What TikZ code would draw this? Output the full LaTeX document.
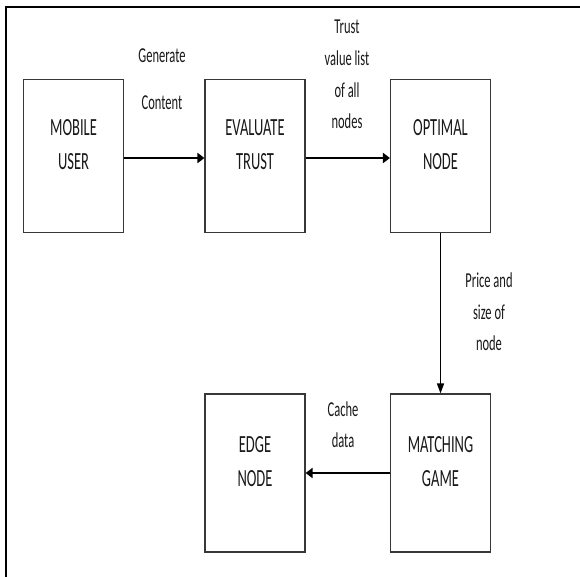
\documentclass[tikz,border=0pt]{standalone}
\usepackage{fontspec}
\setmainfont{Carlito}
\usepackage{graphicx}
\usetikzlibrary{arrows.meta}
\newcommand{\boxtext}[1]{\scalebox{1}[1.7]{\fontsize{14.5}{20}\selectfont\begin{tabular}{@{}c@{}}#1\end{tabular}}}
\newcommand{\lbltext}[2]{\scalebox{1}[1.7]{\fontsize{12.5}{#1}\selectfont\begin{tabular}{@{}c@{}}#2\end{tabular}}}
\tikzset{
  stage/.style={draw=black!78, line width=1.1pt, minimum width=100pt, minimum height=153pt, inner sep=0pt},
  stage2/.style={stage, minimum height=158pt},
  lbl/.style={inner sep=0pt, text=black!90},
  boldflow/.style={line width=2.7pt, -{Triangle[length=7pt,width=10pt]}},
  thinflow/.style={line width=1.4pt, -{Triangle[length=10pt,width=7pt]}},
  frameline/.style={line width=2.5pt, black}
}
\begin{document}
\begin{tikzpicture}[x=1pt,y=-1pt]
\useasboundingbox (0,0) rectangle (580,577);
\fill[white] (0,0) rectangle (580,577);
\draw[frameline] (580,7) -- (6,7) -- (6,578);

\node[stage, label={[lbl,yshift=10pt]center:\boxtext{MOBILE\\USER}}] (mu) at (73.5,156) {};
\node[stage, label={[lbl,yshift=10pt]center:\boxtext{EVALUATE\\TRUST}}] (et) at (255,156) {};
\node[stage, label={[lbl,yshift=10pt]center:\boxtext{OPTIMAL\\NODE}}] (on) at (440.5,156) {};
\node[stage2, label={[lbl,yshift=10pt]center:\boxtext{EDGE\\NODE}}] (en) at (255,473) {};
\node[stage2, label={[lbl,yshift=10pt]center:\boxtext{MATCHING\\GAME}}] (mg) at (440.5,473) {};

\draw[boldflow] ([yshift=-2pt]mu.east) -- ([yshift=-2pt]et.west);
\draw[boldflow] ([yshift=-2pt]et.east) -- ([yshift=-2pt]on.west);
\draw[thinflow] (on.south) -- (mg.north);
\draw[boldflow] (mg.west) -- (en.east);

\node[lbl] (l1) at (162,76.5) {\lbltext{27.6}{Generate\\Content}};
\node[lbl] (l2) at (347,75) {\lbltext{18.6}{Trust\\value list\\of all\\nodes}};
\node[lbl] (l3) at (489,313) {\lbltext{18.6}{Price and\\size of\\node}};
\node[lbl] (l4) at (343,425.5) {\lbltext{18.4}{Cache\\data}};
\end{tikzpicture}
\end{document}
